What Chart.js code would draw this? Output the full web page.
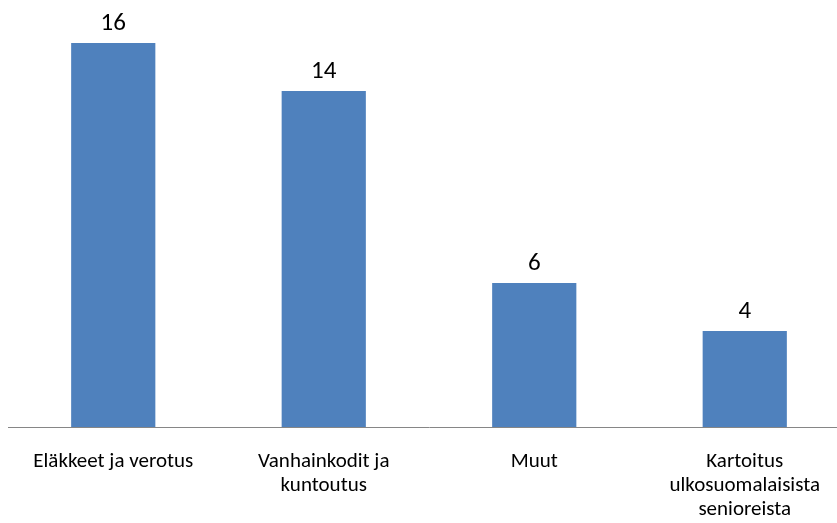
<!DOCTYPE html>
<html>
<head>
<meta charset="utf-8">
<script src="https://cdn.jsdelivr.net/npm/chart.js@4/dist/chart.umd.min.js"></script>
<style>
  html, body { margin: 0; padding: 0; background: #ffffff; overflow: hidden; }
  #wrap { width: 837px; height: 523px; overflow: hidden; }
  canvas { display: block; }
</style>
</head>
<body>
<div id="wrap"><canvas id="chart" width="850" height="523"></canvas></div>
<script>
// Topic categories (multi-line labels) and their counts
const categories = [
  ['Eläkkeet ja verotus'],
  ['Vanhainkodit ja', 'kuntoutus'],
  ['Muut'],
  ['Kartoitus', 'ulkosuomalaisista', 'senioreista']
];
const counts = [16, 14, 6, 4];

const FONT = 'Carlito, Calibri, Lato, sans-serif';

// Writes each bar's value centred above it
const valueLabels = {
  id: 'valueLabels',
  afterDatasetsDraw(chart) {
    const ctx = chart.ctx;
    const meta = chart.getDatasetMeta(0);
    ctx.save();
    ctx.font = '25px ' + FONT;
    ctx.fillStyle = '#000000';
    ctx.textAlign = 'center';
    ctx.textBaseline = 'alphabetic';
    meta.data.forEach((bar, i) => {
      ctx.fillText(String(chart.data.datasets[0].data[i]), bar.x, bar.y - 13);
    });
    ctx.restore();
  }
};

new Chart(document.getElementById('chart'), {
  type: 'bar',
  data: {
    labels: categories,
    datasets: [{
      data: counts,
      backgroundColor: '#4F81BD',
      borderWidth: 0,
      categoryPercentage: 1,
      barPercentage: 0.4
    }]
  },
  options: {
    responsive: false,
    animation: false,
    layout: { padding: { left: 8, right: 0, top: 43, bottom: 0 } },
    plugins: {
      legend: { display: false },
      tooltip: { enabled: false }
    },
    scales: {
      x: {
        grid: { display: false, drawTicks: false },
        border: { display: true, color: '#868686', width: 1 },
        ticks: {
          color: '#000000',
          font: { family: FONT, size: 21, lineHeight: '24px' },
          padding: 23,
          maxRotation: 0,
          autoSkip: false
        },
        afterFit(scale) { scale.height = 96; }
      },
      y: {
        display: false,
        min: 0,
        max: 16
      }
    }
  },
  plugins: [valueLabels]
});
</script>
</body>
</html>
